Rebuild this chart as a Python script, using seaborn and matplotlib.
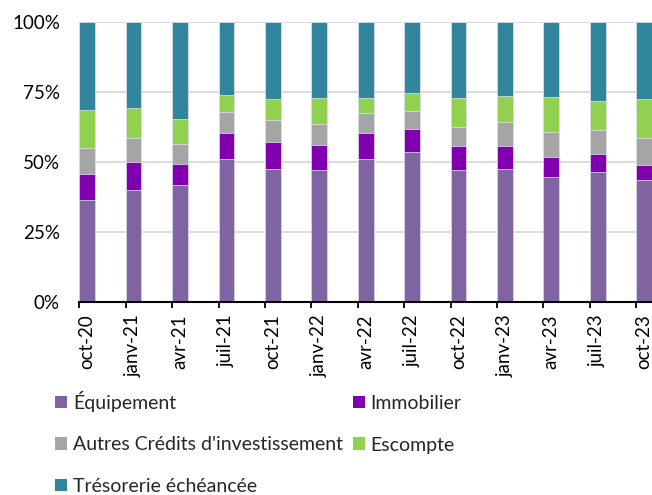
import matplotlib
matplotlib.use("Agg")
import matplotlib.pyplot as plt
from matplotlib.patches import Patch
from matplotlib.ticker import FixedLocator, PercentFormatter
import seaborn as sns
import pandas as pd
import numpy as np

categories = ["oct-20", "janv-21", "avr-21", "juil-21", "oct-21", "janv-22", "avr-22",
              "juil-22", "oct-22", "janv-23", "avr-23", "juil-23", "oct-23"]
equipement = [36.3, 39.9, 41.7, 51.0, 47.4, 47.0, 50.9, 53.5, 47.0, 47.4, 44.4, 46.3, 43.5]
immobilier = [9.3, 9.9, 7.6, 9.3, 9.7, 8.9, 9.2, 8.3, 8.6, 8.2, 7.4, 6.6, 5.4]
autres = [9.2, 8.6, 6.9, 7.3, 7.9, 7.7, 7.2, 6.2, 6.7, 8.5, 8.9, 8.4, 9.5]
escompte = [13.7, 10.9, 9.2, 6.2, 7.5, 9.0, 5.6, 6.5, 10.6, 9.4, 12.3, 10.3, 13.9]
tresorerie = [31.5, 30.7, 34.6, 26.2, 27.5, 27.4, 27.1, 25.5, 27.1, 26.5, 27.0, 28.4, 27.7]

series_names = ["Équipement", "Immobilier", "Autres Crédits d'investissement",
                "Escompte", "Trésorerie échéancée"]
colors = ["#8064A2", "#8000B0", "#A5A5A5", "#92D050", "#31859C"]

sns.set_theme(style="white")
plt.rcParams["font.family"] = ["Lato", "DejaVu Sans"]

df = pd.DataFrame({"cat": categories, "Équipement": equipement, "Immobilier": immobilier,
                   "Autres Crédits d'investissement": autres, "Escompte": escompte,
                   "Trésorerie échéancée": tresorerie})
cum = df[series_names].cumsum(axis=1)

fig = plt.figure(figsize=(6.52, 4.95), dpi=100)
ax = fig.add_axes([79.3 / 652, 1 - 301.7 / 495, 1 - 79.3 / 652, (301.7 - 21.7) / 495])

W = 0.34
for name, col in reversed(list(zip(series_names, colors))):
    sns.barplot(x=df["cat"], y=cum[name], color=col, width=W, ax=ax,
                edgecolor="#E6E6EE", linewidth=0.5, zorder=3, saturation=1)

ax.set_ylim(0, 100)
ax.set_xlim(-W / 2, len(categories) - 1 + W / 2)
ax.yaxis.set_major_locator(FixedLocator([0, 25, 50, 75, 100]))
ax.yaxis.set_major_formatter(PercentFormatter(decimals=0))
ax.grid(axis="y", color="#D9D9D9", linewidth=1.3, zorder=0)
ax.set_axisbelow(True)
for s in ["left", "right", "top"]:
    ax.spines[s].set_visible(False)
ax.spines["bottom"].set_color("black")
ax.spines["bottom"].set_linewidth(1.5)
ax.spines["bottom"].set_zorder(5)
ax.set_xlabel("")
ax.set_ylabel("")
ax.set_xticks(range(len(categories)))
ax.set_xticklabels(categories, rotation=90, fontsize=13.5)
ax.set_xticks([i - W / 2 for i in range(len(categories))], minor=True)
ax.tick_params(axis="x", which="major", length=0, pad=9, colors="black")
ax.tick_params(axis="x", which="minor", length=4, width=1.3, color="black", bottom=True)
ax.tick_params(axis="y", length=0, pad=14, labelsize=13.5, colors="black")

handles = [Patch(facecolor=c, edgecolor="none") for c in colors]
order = [0, 2, 4, 1, 3]
fig.legend([handles[i] for i in order], [series_names[i] for i in order],
           loc="upper left", bbox_to_anchor=(55 / 652, 1 - 391 / 495), ncol=2,
           frameon=False, fontsize=14, handlelength=0.62, handleheight=0.62,
           handletextpad=0.3, columnspacing=0.5, labelspacing=1.26, borderaxespad=0,
           borderpad=0)

fig.savefig("out.png", dpi=100)
